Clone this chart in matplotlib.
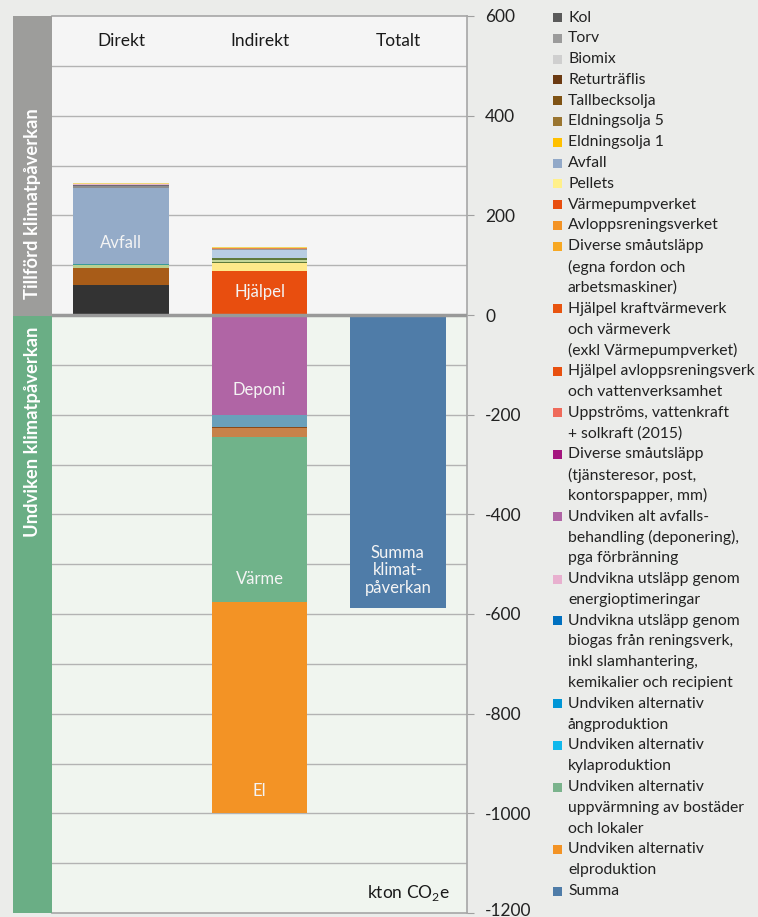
import matplotlib
matplotlib.use('Agg')
import matplotlib.pyplot as plt
from matplotlib.patches import Rectangle
from matplotlib.transforms import ScaledTranslation

plt.rcParams['font.family'] = ['Lato', 'DejaVu Sans']
plt.rcParams['axes.unicode_minus'] = False

# --- data (kton CO2e) ---
columns = ['Direkt', 'Indirekt', 'Totalt']

# Direkt, stacked bottom -> top
direkt_values = [60, 35, 5, 2, 153, 3, 3, 2, 2]
direkt_colors = ['#333333', '#a85c18', '#b9d08f', '#3a9a9a', '#94abc8',
                 '#8c8c8c', '#6d6878', '#e8b8c8', '#f0d878']

# Indirekt, positive part, bottom -> top
indirekt_pos_values = [3, 85, 16, 2, 4, 4, 16, 2, 1.5, 2.5]
indirekt_pos_colors = ['#f2d34a', '#e84e0f', '#ffe98a', '#5f7a3a', '#c5d69a',
                       '#5f7a3a', '#b8cde2', '#999999', '#e8884a', '#f0d860']

# Indirekt, negative part, top -> bottom
indirekt_neg_values = [-201, -23, -2, -18, -332, -424]
indirekt_neg_colors = ['#b065a5', '#6aa0bb', '#8a4a1a', '#c8824a', '#70b38a', '#f39325']

summa_value = -588

# legend
legend_labels = [
    'Kol', 'Torv', 'Biomix', 'Returträflis', 'Tallbecksolja', 'Eldningsolja 5',
    'Eldningsolja 1', 'Avfall', 'Pellets', 'Värmepumpverket', 'Avloppsreningsverket',
    'Diverse småutsläpp\n(egna fordon och\narbetsmaskiner)',
    'Hjälpel kraftvärmeverk\noch värmeverk\n(exkl Värmepumpverket)',
    'Hjälpel avloppsreningsverk\noch vattenverksamhet',
    'Uppströms, vattenkraft\n+ solkraft (2015)',
    'Diverse småutsläpp\n(tjänsteresor, post,\nkontorspapper, mm)',
    'Undviken alt avfalls-\nbehandling (deponering),\npga förbränning',
    'Undvikna utsläpp genom\nenergioptimeringar',
    'Undvikna utsläpp genom\nbiogas från reningsverk,\ninkl slamhantering,\nkemikalier och recipient',
    'Undviken alternativ\nångproduktion',
    'Undviken alternativ\nkylaproduktion',
    'Undviken alternativ\nuppvärmning av bostäder\noch lokaler',
    'Undviken alternativ\nelproduktion',
    'Summa',
]
legend_colors = [
    '#5a5a5a', '#9b9b9b', '#cfcfcf', '#6b3a12', '#7f5314', '#9a7530',
    '#ffc000', '#92a9c8', '#fff08a', '#e84e0f', '#f39325', '#f7a823',
    '#e8540f', '#e8500f', '#ef6a5a', '#a4167f', '#b065a5', '#e8b0cf',
    '#0070c0', '#0096d6', '#10b8ec', '#7ab38c', '#f39325', '#4f7ca8',
]

W, H = 758, 917
fig = plt.figure(figsize=(W / 100, H / 100), dpi=100, facecolor='#ebecea')


def fx(px):
    return px / W


def fy(py):
    return 1 - py / H


ax = fig.add_axes([fx(52), fy(913), fx(467) - fx(52), fy(16) - fy(913)])
ax.set_xlim(-0.5, 2.5)
ax.set_ylim(-1200, 600)
ax.set_facecolor('none')
ax.axhspan(0, 600, color='#f5f5f5', zorder=0, lw=0)
ax.axhspan(-1200, 0, color='#f0f5ef', zorder=0, lw=0)
for v in range(-1100, 600, 100):
    ax.axhline(v, color='#b3b3b3', lw=1.0, zorder=1)

bw = 0.69


def stack(x, values, colors):
    base = 0
    for v, c in zip(values, colors):
        ax.bar(x, v, bw, bottom=base, color=c, lw=0, zorder=2)
        base += v


stack(0, direkt_values, direkt_colors)
stack(1, indirekt_pos_values, indirekt_pos_colors)
stack(1, indirekt_neg_values, indirekt_neg_colors)
ax.bar(2, summa_value, bw, color='#4f7ca8', lw=0, zorder=2)

ax.axhline(0, color='#999999', lw=2.5, zorder=3)

# labels inside bars
lab = dict(ha='center', va='center', color='#f4f4f4', fontsize=12, zorder=4)
ax.text(0, 144, 'Avfall', **lab)
ax.text(1, 46, 'Hjälpel', **lab)
ax.text(1, -150, 'Deponi', **lab)
ax.text(1, -530, 'Värme', **lab)
ax.text(1, -956, 'El', **lab)
ax.text(2, -512, 'Summa\nklimat-\npåverkan', linespacing=1.12, **lab)

for i, name in enumerate(columns):
    ax.text(i, 549, name, ha='center', va='center', fontsize=12.5, color='#1a1a1a')

ax.text(0.958, 0.022, r'kton CO$_{\mathregular{2}}$e', transform=ax.transAxes,
        ha='right', va='center', fontsize=12.5, color='#1a1a1a')

ax.set_xticks([])
ax.yaxis.tick_right()
ax.set_yticks(range(-1200, 601, 200))
ax.tick_params(axis='y', length=5, color='#a0a0a0', pad=8, labelsize=12.5,
               labelcolor='#222222')
# nudge lowest label up so it stays inside the canvas
last = ax.get_yticklabels()[0]
last.set_transform(last.get_transform() + ScaledTranslation(0, 4 / 100, fig.dpi_scale_trans))

ax.spines['left'].set_visible(False)
for s in ['top', 'right', 'bottom']:
    ax.spines[s].set_color('#a6a6a6')
    ax.spines[s].set_linewidth(1.2)

# side strip
fig.add_artist(Rectangle((fx(13), fy(316)), fx(52) - fx(13), fy(16) - fy(316),
                         transform=fig.transFigure, color='#9d9d9b', lw=0))
fig.add_artist(Rectangle((fx(13), fy(913)), fx(52) - fx(13), fy(316) - fy(913),
                         transform=fig.transFigure, color='#6aae85', lw=0))
fig.text(fx(33), fy(204), 'Tillförd klimatpåverkan', rotation=90, ha='center',
         va='center', color='white', fontweight='bold', fontsize=13.2)
fig.text(fx(33), fy(432), 'Undviken klimatpåverkan', rotation=90, ha='center',
         va='center', color='white', fontweight='bold', fontsize=13.2)

# legend
y = 17.5
step = 20.8
for label, c in zip(legend_labels, legend_colors):
    fig.add_artist(Rectangle((fx(553), fy(y + 4.5)), fx(9), 9 / H,
                             transform=fig.transFigure, color=c, lw=0))
    for line in label.split('\n'):
        fig.text(fx(568), fy(y), line, va='center', ha='left', fontsize=11.3,
                 color='#222222')
        y += step

fig.savefig('out.png', dpi=100, facecolor=fig.get_facecolor())
